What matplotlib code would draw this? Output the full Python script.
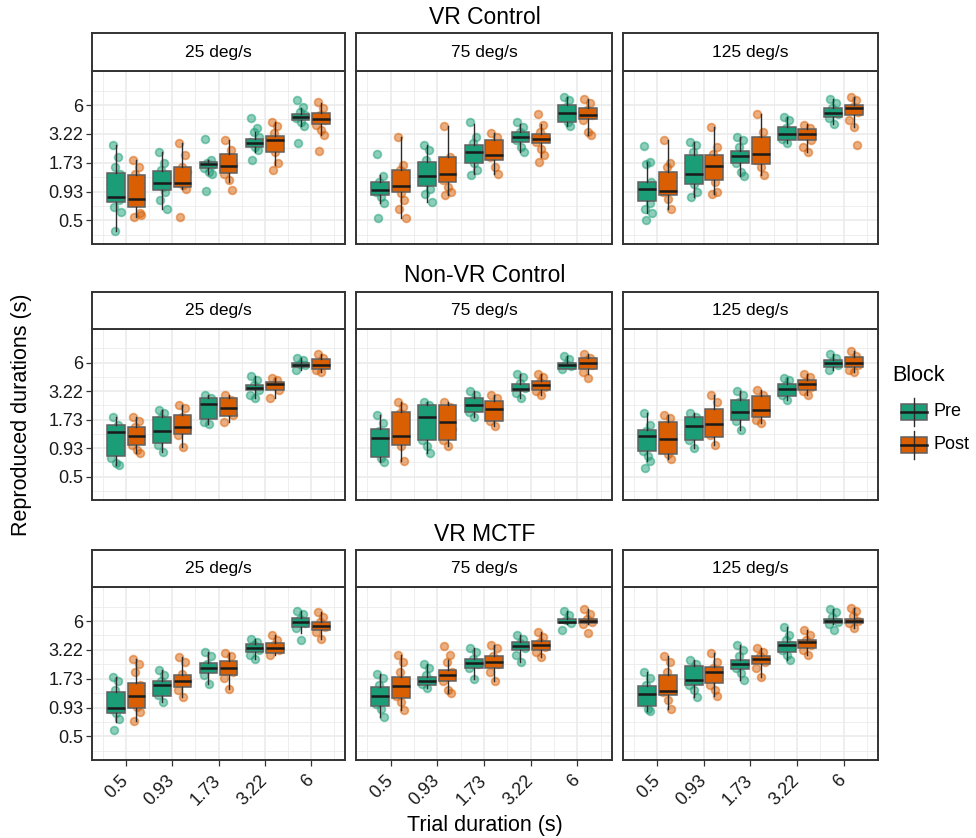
import matplotlib.pyplot as plt
import numpy as np
from matplotlib.patches import Rectangle
from matplotlib.ticker import NullLocator

plt.rcParams['font.family'] = ['Liberation Sans', 'DejaVu Sans']

conditions = ["VR Control", "Non-VR Control", "VR MCTF"]
speeds = ["25 deg/s", "75 deg/s", "125 deg/s"]
durations = ["0.5", "0.93", "1.73", "3.22", "6"]
blocks = ["Pre", "Post"]
y_breaks = [0.5, 0.93, 1.73, 3.22, 6]
block_colors = {"Pre": "#1b9e77", "Post": "#d95f02"}

# box stats per speed (25, 75, 125) and trial duration:
# [whisker low, q1, median, q3, whisker high]
vr_control_pre_box = [
    [[0.40, 0.74, 0.82, 1.40, 2.53], [0.64, 0.96, 1.12, 1.45, 2.19], [1.37, 1.53, 1.68, 1.76, 1.83],
     [2.19, 2.44, 2.65, 2.91, 3.35], [3.80, 4.34, 4.66, 5.00, 5.58]],
    [[0.72, 0.87, 0.96, 1.14, 1.32], [0.74, 1.05, 1.30, 1.74, 2.53], [1.37, 1.71, 2.19, 2.53, 4.03],
     [2.19, 2.70, 2.99, 3.35, 4.03], [3.80, 4.18, 5.10, 6.00, 7.18]],
    [[0.58, 0.76, 0.99, 1.14, 1.76], [0.83, 1.10, 1.37, 2.03, 2.70], [1.30, 1.73, 2.01, 2.24, 3.02],
     [2.62, 2.81, 3.24, 3.70, 4.66], [4.03, 4.66, 5.10, 5.58, 6.90]],
]
vr_control_post_box = [
    [[0.54, 0.67, 0.80, 1.32, 1.83], [0.99, 1.03, 1.12, 1.58, 2.62], [1.14, 1.39, 1.62, 2.11, 2.81],
     [1.65, 2.19, 2.81, 3.06, 4.18], [3.12, 3.98, 4.44, 5.10, 6.21]],
    [[0.52, 0.92, 1.04, 1.49, 3.02], [0.86, 1.14, 1.37, 1.96, 3.80], [1.37, 1.83, 2.03, 2.85, 3.29],
     [1.96, 2.65, 2.91, 3.24, 3.96], [3.12, 4.44, 4.85, 5.58, 6.90]],
    [[0.64, 0.86, 0.94, 1.42, 2.81], [0.89, 1.19, 1.62, 2.06, 3.75], [1.32, 1.69, 2.08, 3.02, 5.00],
     [2.19, 2.85, 3.22, 3.57, 4.03], [3.75, 4.85, 5.58, 6.00, 7.18]],
]
non_vr_pre_box = [
    [[0.64, 0.78, 1.32, 1.55, 1.85], [0.86, 1.04, 1.36, 1.85, 2.14], [1.58, 1.75, 2.44, 2.79, 2.97],
     [2.76, 3.29, 3.47, 3.67, 4.50], [5.10, 5.45, 5.74, 6.00, 6.70]],
    [[0.69, 0.76, 1.16, 1.42, 1.90], [0.84, 1.12, 1.85, 2.39, 2.56], [1.83, 2.03, 2.39, 2.76, 3.20],
     [2.76, 3.20, 3.38, 3.73, 4.73], [5.24, 5.24, 5.65, 5.97, 7.00]],
    [[0.70, 0.88, 1.22, 1.39, 1.99], [0.93, 1.12, 1.51, 1.85, 1.99], [1.39, 1.70, 2.06, 2.67, 3.20],
     [2.67, 2.91, 3.35, 3.73, 4.30], [5.10, 5.45, 5.97, 6.30, 7.28]],
]
non_vr_post_box = [
    [[0.84, 0.99, 1.20, 1.49, 1.83], [0.96, 1.26, 1.47, 1.90, 2.39], [1.63, 1.87, 2.25, 2.76, 2.97],
     [2.76, 3.29, 3.73, 3.94, 4.30], [4.90, 5.24, 5.74, 6.45, 7.28]],
    [[0.70, 1.00, 1.20, 2.03, 2.52], [0.97, 1.10, 1.64, 2.39, 2.56], [1.51, 1.67, 2.19, 2.60, 2.97],
     [2.97, 3.29, 3.67, 4.00, 4.73], [4.73, 5.24, 6.00, 6.68, 7.28]],
    [[0.73, 0.81, 1.14, 1.63, 1.90], [1.00, 1.18, 1.58, 2.19, 2.97], [1.60, 1.83, 2.14, 2.90, 3.29],
     [2.97, 3.29, 3.73, 4.10, 4.73], [4.85, 5.45, 6.00, 6.85, 7.80]],
]
vr_mctf_pre_box = [
    [[0.68, 0.82, 0.93, 1.30, 1.80], [1.05, 1.19, 1.50, 1.65, 2.08], [1.56, 1.94, 2.19, 2.45, 3.10],
     [2.67, 3.10, 3.32, 3.62, 4.06], [4.60, 5.30, 5.90, 6.45, 7.50]],
    [[0.76, 0.97, 1.20, 1.45, 1.92], [1.42, 1.50, 1.64, 1.80, 2.40], [1.73, 2.19, 2.44, 2.67, 3.32],
     [2.49, 3.20, 3.50, 3.83, 4.40], [5.60, 5.70, 5.90, 6.21, 7.50]],
    [[0.87, 0.96, 1.24, 1.48, 2.00], [1.16, 1.50, 1.67, 2.28, 2.58], [1.69, 2.13, 2.40, 2.58, 3.55],
     [2.58, 3.10, 3.55, 3.83, 5.30], [5.60, 5.70, 6.00, 6.26, 7.70]],
]
vr_mctf_post_box = [
    [[0.69, 0.92, 1.19, 1.59, 2.65], [1.16, 1.45, 1.63, 1.86, 2.77], [1.40, 1.89, 2.19, 2.55, 2.99],
     [2.87, 3.02, 3.32, 3.70, 4.40], [4.10, 4.95, 5.38, 5.90, 7.30]],
    [[0.88, 1.14, 1.47, 1.80, 2.87], [1.26, 1.64, 1.87, 2.08, 2.58], [1.64, 2.19, 2.49, 2.80, 3.55],
     [2.75, 3.20, 3.55, 3.90, 4.70], [5.60, 5.70, 6.00, 6.21, 7.70]],
    [[0.91, 1.23, 1.33, 1.87, 2.80], [1.20, 1.59, 2.02, 2.24, 2.99], [1.80, 2.40, 2.63, 2.80, 3.32],
     [2.87, 3.38, 3.78, 3.96, 4.95], [5.20, 5.70, 6.00, 6.30, 7.90]],
]

# individual reproduced durations (s), same nesting
vr_control_pre_pts = [
    [[2.53, 1.96, 1.58, 1.37, 1.06, 0.89, 0.77, 0.67, 0.60, 0.40], [2.19, 1.71, 1.47, 1.27, 1.14, 1.03, 0.92, 0.77, 0.64],
     [2.91, 1.83, 1.71, 1.66, 1.53, 1.42, 1.37, 0.94], [4.50, 3.62, 3.35, 3.02, 2.70, 2.44, 2.27, 1.83],
     [6.68, 5.78, 5.20, 4.85, 4.50, 4.18, 3.80, 2.62]],
    [[2.08, 1.30, 1.14, 1.03, 0.92, 0.83, 0.72, 0.52], [2.53, 2.27, 1.83, 1.58, 1.32, 1.14, 0.99, 0.89, 0.74],
     [4.18, 3.02, 2.62, 2.27, 1.96, 1.71, 1.47, 1.32], [4.18, 3.75, 3.35, 3.02, 2.81, 2.44, 2.19],
     [7.18, 6.68, 5.78, 5.20, 4.66, 4.18, 3.80]],
    [[2.48, 1.76, 1.69, 1.14, 0.96, 0.83, 0.72, 0.64, 0.58, 0.50], [2.70, 2.53, 2.19, 1.83, 1.37, 1.10, 0.92, 0.83],
     [3.02, 2.81, 2.44, 2.03, 1.71, 1.42, 1.30], [4.66, 4.34, 3.62, 3.26, 2.91, 2.62],
     [6.90, 6.21, 5.58, 5.00, 4.50, 4.03]],
]
vr_control_post_pts = [
    [[1.83, 1.58, 1.37, 1.03, 0.83, 0.74, 0.58, 0.54, 0.56], [2.62, 2.03, 1.58, 1.42, 1.14, 1.06, 0.99, 0.54],
     [2.81, 2.27, 1.96, 1.65, 1.37, 1.19, 0.97], [4.18, 3.80, 3.26, 2.81, 2.44, 2.19, 1.71, 1.48],
     [6.40, 5.58, 4.85, 4.34, 3.90, 3.49, 3.12, 2.24]],
    [[3.02, 1.66, 1.47, 1.30, 1.03, 0.90, 0.77, 0.64, 0.52], [3.80, 1.96, 1.71, 1.37, 1.19, 1.03, 0.92, 0.86],
     [3.29, 3.02, 2.62, 2.19, 1.96, 1.58, 1.37], [5.00, 3.90, 3.35, 3.02, 2.70, 2.35, 2.03, 1.76],
     [6.90, 6.21, 5.38, 4.85, 4.34, 3.35, 3.12]],
    [[2.81, 1.71, 1.58, 1.30, 0.92, 0.80, 0.64], [3.70, 2.44, 2.11, 1.71, 1.37, 1.14, 0.92, 0.89],
     [5.00, 3.35, 2.81, 2.19, 1.83, 1.58, 1.32], [3.90, 3.62, 3.26, 2.81, 2.44, 2.19],
     [7.18, 6.68, 5.78, 5.20, 4.34, 3.75, 2.53]],
]
non_vr_pre_pts = [
    [[1.85, 1.55, 1.27, 1.00, 0.75, 0.67, 0.64], [2.14, 1.99, 1.80, 1.35, 1.00, 0.86],
     [2.97, 2.76, 2.47, 2.08, 1.66, 1.58], [4.50, 4.10, 3.67, 3.29, 2.97, 2.76],
     [6.70, 6.30, 5.88, 5.65, 5.10]],
    [[1.90, 1.60, 1.34, 1.16, 0.94, 0.75, 0.69], [2.56, 2.39, 1.90, 1.44, 1.12, 0.97, 0.84],
     [3.20, 2.97, 2.67, 2.30, 2.06, 1.83], [4.73, 4.40, 3.83, 3.44, 3.07, 2.76],
     [7.00, 6.50, 5.88, 5.60, 5.24]],
    [[1.99, 1.55, 1.34, 1.12, 0.87, 0.78, 0.70, 0.60], [1.99, 1.85, 1.60, 1.34, 1.12, 0.93],
     [3.20, 2.97, 2.56, 2.06, 1.67, 1.39], [4.30, 4.10, 3.67, 3.29, 2.97, 2.67],
     [7.28, 6.70, 6.08, 5.65, 5.10]],
]
non_vr_post_pts = [
    [[1.83, 1.67, 1.49, 1.27, 1.00, 0.90, 0.84], [2.39, 2.22, 1.85, 1.44, 1.25, 0.96],
     [2.97, 2.67, 2.28, 1.90, 1.63], [4.30, 4.10, 3.67, 3.29, 2.76],
     [7.28, 6.70, 6.08, 5.65, 5.10, 4.90]],
    [[2.52, 2.30, 2.00, 1.55, 1.16, 0.97, 0.70], [2.56, 2.30, 1.80, 1.40, 1.12, 0.97],
     [2.97, 2.76, 2.39, 2.00, 1.67, 1.51], [4.73, 4.40, 3.94, 3.56, 3.20, 2.97],
     [7.28, 6.70, 6.30, 5.65, 4.90, 4.34]],
    [[1.90, 1.80, 1.55, 1.34, 1.00, 0.81, 0.73], [2.97, 2.56, 1.90, 1.55, 1.25, 1.00],
     [3.29, 2.97, 2.47, 2.06, 1.73, 1.60], [4.73, 4.40, 3.94, 3.56, 3.20, 2.97],
     [7.80, 7.00, 6.30, 5.65, 5.10, 4.85]],
]
vr_mctf_pre_pts = [
    [[1.80, 1.64, 1.35, 1.09, 0.91, 0.82, 0.72, 0.57], [2.08, 1.87, 1.63, 1.40, 1.21, 1.05],
     [3.10, 2.80, 2.40, 2.16, 1.87, 1.56], [4.06, 3.83, 3.60, 3.20, 2.87, 2.67],
     [7.50, 7.00, 6.30, 5.80, 5.20, 3.98]],
    [[1.92, 1.74, 1.50, 1.20, 1.00, 0.91, 0.76], [2.40, 2.16, 1.87, 1.67, 1.55, 1.42],
     [3.32, 3.10, 2.67, 2.40, 2.16, 1.73], [4.40, 4.10, 3.70, 3.32, 2.87, 2.49],
     [7.50, 6.85, 6.10, 5.70, 4.95]],
    [[2.00, 1.74, 1.50, 1.26, 1.05, 0.91, 0.87], [2.58, 2.40, 2.16, 1.74, 1.50, 1.37, 1.16],
     [3.55, 3.20, 2.80, 2.40, 2.16, 1.94, 1.69], [5.30, 4.40, 3.96, 3.55, 3.20, 2.87, 2.58],
     [7.70, 7.28, 6.50, 5.90, 5.60, 4.95]],
]
vr_mctf_post_pts = [
    [[2.65, 2.39, 2.00, 1.50, 1.20, 0.94, 0.85, 0.69], [2.77, 2.49, 1.92, 1.63, 1.35, 1.16],
     [2.99, 2.80, 2.30, 2.00, 1.75, 1.40], [4.40, 3.96, 3.55, 3.20, 2.87],
     [7.30, 6.50, 5.90, 5.30, 4.75, 4.10]],
    [[2.87, 2.49, 2.02, 1.50, 1.20, 1.05, 0.88], [3.50, 2.87, 2.49, 2.02, 1.63, 1.35, 1.26],
     [3.55, 3.32, 2.80, 2.40, 2.02, 1.64], [4.70, 4.27, 3.83, 3.42, 3.10, 2.75],
     [7.70, 7.00, 6.30, 5.90, 5.60, 4.60]],
    [[2.80, 2.49, 2.02, 1.63, 1.31, 1.09, 0.91], [2.99, 2.49, 2.16, 1.87, 1.50, 1.35, 1.20],
     [3.32, 3.10, 2.80, 2.49, 2.16, 1.80], [4.95, 4.40, 3.96, 3.55, 3.20, 2.87],
     [7.90, 7.50, 6.70, 6.05, 5.70, 5.20]],
]

box_data = {
    "VR Control": {"Pre": vr_control_pre_box, "Post": vr_control_post_box},
    "Non-VR Control": {"Pre": non_vr_pre_box, "Post": non_vr_post_box},
    "VR MCTF": {"Pre": vr_mctf_pre_box, "Post": vr_mctf_post_box},
}
point_data = {
    "VR Control": {"Pre": vr_control_pre_pts, "Post": vr_control_post_pts},
    "Non-VR Control": {"Pre": non_vr_pre_pts, "Post": non_vr_post_pts},
    "VR MCTF": {"Pre": vr_mctf_pre_pts, "Post": vr_mctf_post_pts},
}

# fixed horizontal jitter pattern for the dots
jitter = np.array([-0.07, 0.05, -0.02, 0.09, -0.10, 0.01, 0.07, -0.05, 0.10, -0.03])
dodge = {"Pre": -0.22, "Post": 0.22}

W, H = 976, 838
fig = plt.figure(figsize=(W / 100, H / 100), dpi=100)


def frac(x0, y0, x1, y1):
    return [x0 / W, 1 - y1 / H, (x1 - x0) / W, (y1 - y0) / H]


col_x = [(92, 345), (356, 612), (623, 878)]
row_y = [(33, 71, 244), (292, 329, 500), (550, 587, 760)]  # strip top, panel top, panel bottom
title_y = [18, 275, 534]
edge = "#333333"
grid = "#ebebeb"

for r, cond in enumerate(conditions):
    st, pt, pb = row_y[r]
    fig.text(485 / W, 1 - title_y[r] / H, cond, ha="center", va="center", fontsize=16.5)
    for c, speed in enumerate(speeds):
        x0, x1 = col_x[c]
        ax = fig.add_axes(frac(x0, pt, x1, pb))
        sax = fig.add_axes(frac(x0, st, x1, pt))
        sax.set_xticks([])
        sax.set_yticks([])
        for sp in sax.spines.values():
            sp.set_color(edge)
            sp.set_linewidth(1.4)
        sax.text(0.5, 0.5, speed, ha="center", va="center", fontsize=12.5, transform=sax.transAxes)

        ax.set_yscale("log")
        ax.set_ylim(0.30, 12.5)
        ax.set_xlim(0.26, 5.74)
        ax.yaxis.set_minor_locator(NullLocator())

        # grid: major at breaks, minor halfway
        for yb in y_breaks:
            ax.axhline(yb, color=grid, lw=1.2, zorder=0)
        for k in range(-1, 5):
            ax.axhline(0.5 * 12 ** ((k + 0.5) / 4), color=grid, lw=0.6, zorder=0)
        for k in range(1, 6):
            ax.axvline(k, color=grid, lw=1.2, zorder=0)
            ax.axvline(k - 0.5, color=grid, lw=0.6, zorder=0)
        ax.axvline(5.5, color=grid, lw=0.6, zorder=0)

        for b in blocks:
            col = block_colors[b]
            stats = box_data[cond][b][c]
            pts = point_data[cond][b][c]
            for i in range(len(durations)):
                pos = i + 1 + dodge[b]
                vals = pts[i]
                ax.scatter(pos + jitter[:len(vals)], vals, s=32, color=col, alpha=0.5,
                           edgecolors=col, linewidths=1.2, zorder=2)
                lo, q1, med, q3, hi = stats[i]
                ax.bxp([{"whislo": lo, "q1": q1, "med": med, "q3": q3, "whishi": hi, "fliers": []}],
                       positions=[pos], widths=0.38, patch_artist=True, showcaps=False,
                       manage_ticks=False, zorder=3,
                       boxprops=dict(facecolor=col, edgecolor="#606060", linewidth=1.1),
                       medianprops=dict(color="#1a1a1a", linewidth=1.8),
                       whiskerprops=dict(color="#2b2b2b", linewidth=1.0))

        ax.set_xticks(range(1, 6))
        ax.set_yticks(y_breaks)
        if r == 2:
            ax.set_xticklabels(durations, rotation=45, ha="right", va="center",
                               rotation_mode="anchor", fontsize=13)
        else:
            ax.set_xticklabels([])
        if c == 0:
            ax.set_yticklabels(durations, fontsize=13)
        else:
            ax.set_yticklabels([])
        ax.tick_params(length=4, width=0.9, color=edge, labelcolor="#1a1a1a", pad=2)
        if r == 2:
            ax.tick_params(axis="x", pad=9)
        if c != 0:
            ax.tick_params(axis="y", length=0)
        if r != 2:
            ax.tick_params(axis="x", length=0)
        for sp in ax.spines.values():
            sp.set_color(edge)
            sp.set_linewidth(1.4)

fig.text(22 / W, 1 - 415 / H, "Reproduced durations (s)", rotation=90,
         ha="center", va="center", fontsize=15.5)
fig.text(485 / W, 1 - 825 / H, "Trial duration (s)", ha="center", va="center", fontsize=15.5)

# legend drawn in pixel coordinates
lax = fig.add_axes(frac(888, 355, 976, 470))
lax.set_xlim(888, 976)
lax.set_ylim(470, 355)
lax.axis("off")
lax.text(892, 376, "Block", ha="left", va="center", fontsize=15.5)
for b, yc in [("Pre", 412), ("Post", 445)]:
    lax.plot([914, 914], [yc - 14, yc + 14], color="#2b2b2b", lw=1.0)
    lax.add_patch(Rectangle((901, yc - 8), 26, 16, facecolor=block_colors[b],
                            edgecolor="#606060", lw=1.1))
    lax.plot([901, 927], [yc, yc], color="#1a1a1a", lw=1.8)
    lax.text(934, yc, b, ha="left", va="center", fontsize=13)

fig.savefig("out.png", dpi=100)
